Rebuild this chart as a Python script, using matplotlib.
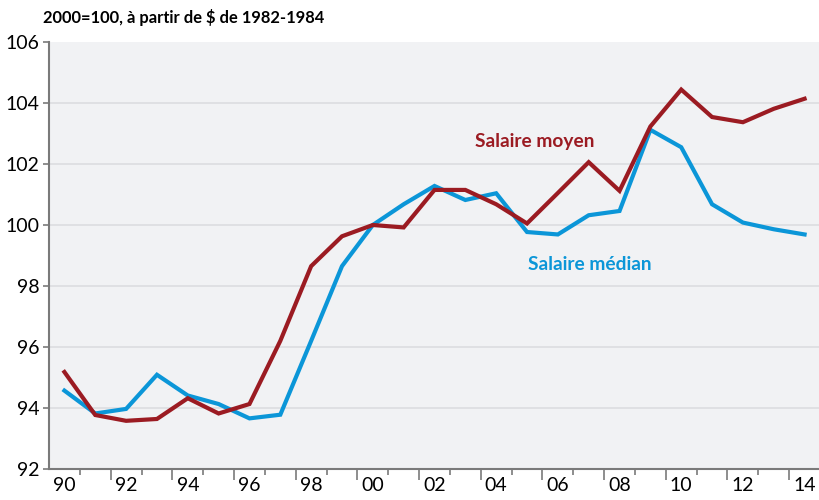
import matplotlib
matplotlib.use("Agg")
import matplotlib.pyplot as plt
import numpy as np

years = list(range(1990, 2015))
salaire_moyen = [95.18, 93.77, 93.58, 93.64, 94.32, 93.82, 94.13, 96.2, 98.65, 99.63,
                 100.0, 99.92, 101.15, 101.15, 100.68, 100.05, 101.05, 102.06, 101.12,
                 103.23, 104.44, 103.54, 103.37, 103.81, 104.14]
salaire_median = [94.57, 93.82, 93.97, 95.09, 94.41, 94.13, 93.66, 93.78, 96.2, 98.65,
                  100.0, 100.68, 101.28, 100.82, 101.04, 99.77, 99.69, 100.32, 100.46,
                  103.12, 102.55, 100.68, 100.08, 99.86, 99.69]
xlabels = ["90", "92", "94", "96", "98", "00", "02", "04", "06", "08", "10", "12", "14"]
yticks = [92, 94, 96, 98, 100, 102, 104, 106]

red = "#9b1b22"
blue = "#0b96d8"
axis_grey = "#7a7a7a"

plt.rcParams["font.family"] = ["Lato", "DejaVu Sans"]

fig = plt.figure(figsize=(8.2, 5), dpi=100)
ax = fig.add_axes([49 / 820, 31 / 500, 771 / 820, 427 / 500])
ax.set_facecolor("#f1f2f4")

ax.plot(years, salaire_moyen, color=red, lw=3, solid_joinstyle="miter", zorder=3)
ax.plot(years, salaire_median, color=blue, lw=3, solid_joinstyle="miter", zorder=2)

ax.set_xlim(1989.5, 2014.5)
ax.set_ylim(92, 106)

ax.set_yticks(yticks)
ax.set_yticklabels([str(v) for v in yticks], fontsize=14)
for v in yticks[1:-1]:
    ax.axhline(v, color="#dcdde0", lw=1.2, zorder=1)

# labels centred in each year slot, ticks on slot boundaries
ax.set_xticks(list(range(1990, 2015, 2)))
ax.set_xticklabels(xlabels, fontsize=14)
ax.tick_params(axis="x", which="major", length=0, pad=6)
ax.set_xticks([y + 0.5 for y in range(1990, 2014, 2)], minor=True)
ax.tick_params(axis="x", which="minor", length=4, width=1.2, color=axis_grey)
sec = ax.secondary_xaxis("bottom")
sec.set_xticks([y + 0.5 for y in range(1991, 2014, 2)])
sec.set_xticklabels([])
sec.tick_params(length=8, width=1.2, color=axis_grey)
sec.spines["bottom"].set_visible(False)

ax.tick_params(axis="y", length=4, width=1.2, color=axis_grey, pad=3)

for s in ["top", "right"]:
    ax.spines[s].set_visible(False)
for s in ["left", "bottom"]:
    ax.spines[s].set_color(axis_grey)
    ax.spines[s].set_linewidth(1.5)

ax.text(2003.31, 102.56, "Salaire moyen", color=red, fontsize=13.8,
        fontweight="bold", va="baseline")
ax.text(2005.03, 98.52, "Salaire médian", color=blue, fontsize=13.8,
        fontweight="bold", va="baseline")

fig.text(43 / 820, 1 - 17.5 / 500, "2000=100, à partir de $ de 1982-1984",
         fontsize=11.9, fontweight="bold", va="center", ha="left")

fig.savefig("out.png", dpi=100)
